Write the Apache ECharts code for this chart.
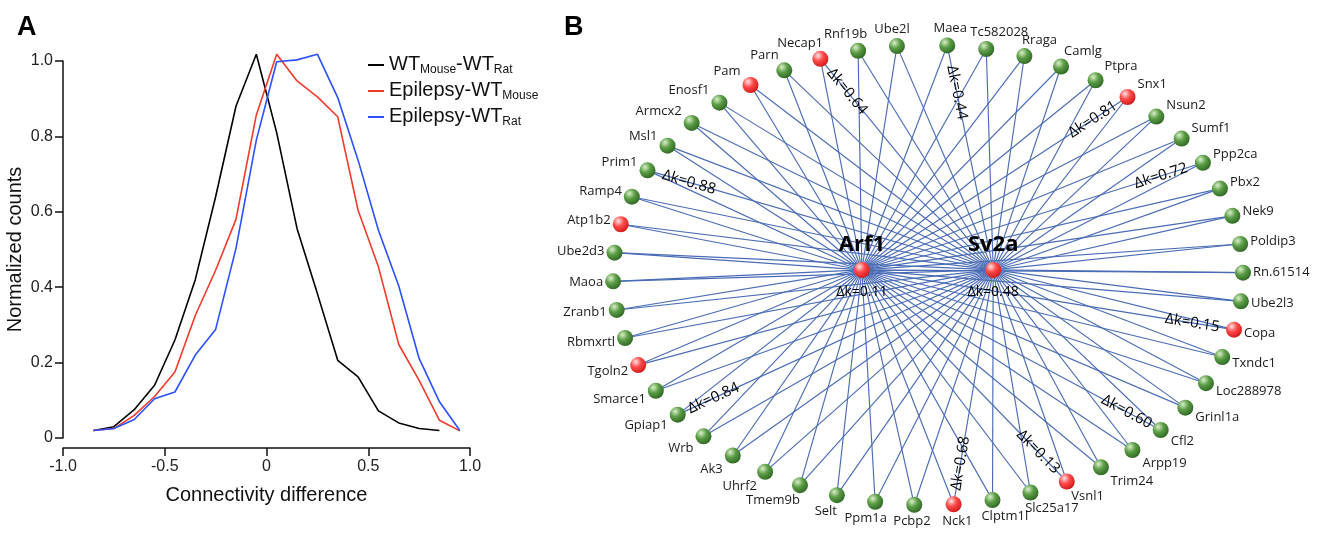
<!DOCTYPE html>
<html><head><meta charset="utf-8">
<script src="https://cdn.jsdelivr.net/npm/echarts@6/dist/echarts.min.js"></script>
<style>html,body{margin:0;padding:0;background:#fff}#c{width:1324px;height:534px}</style>
</head><body><div id="c"></div>
<script>
// ---------- Panel A data ----------
const xValues = [-0.85,-0.75,-0.65,-0.55,-0.45,-0.35,-0.25,-0.15,-0.05,0.05,0.15,0.25,0.35,0.45,0.55,0.65,0.75,0.85,0.95];
const wtMouseWtRat = [0.02,0.03,0.075,0.14,0.26,0.42,0.64,0.88,1.018,0.81,0.556,0.383,0.206,0.162,0.072,0.04,0.025,0.02];
const epilepsyWtMouse = [0.02,0.025,0.06,0.11,0.175,0.325,0.445,0.58,0.857,1.018,0.947,0.905,0.852,0.604,0.454,0.248,0.153,0.047,0.019];
const epilepsyWtRat = [0.02,0.025,0.049,0.104,0.122,0.22,0.288,0.503,0.79,0.998,1.003,1.018,0.903,0.737,0.551,0.403,0.211,0.096,0.02];
const seriesNames = ['WT_Mouse-WT_Rat','Epilepsy-WT_Mouse','Epilepsy-WT_Rat'];
const legendRich = ['{m|WT}{s|Mouse}{m|-WT}{s|Rat}','{m|Epilepsy-WT}{s|Mouse}','{m|Epilepsy-WT}{s|Rat}'];
const xTickLabels = {'-1':'-1.0','-0.5':'-0.5','0':'0','0.5':'0.5','1':'1.0'};
const yTickLabels = {'0':'0','0.2':'0.2','0.4':'0.4','0.6':'0.6','0.8':'0.8','1':'1.0'};

// ---------- Panel B data ----------
const hubGenes = ['Arf1','Sv2a'];
const hubDeltaK = ['Δk=0.11','Δk=0.48'];
const ringGenes = ['Maea','Tc582028','Rraga','Camlg','Ptpra','Snx1','Nsun2','Sumf1','Ppp2ca','Pbx2',
  'Nek9','Poldip3','Rn.61514','Ube2l3','Copa','Txndc1','Loc288978','Grinl1a','Cfl2','Arpp19',
  'Trim24','Vsnl1','Slc25a17','Clptm1l','Nck1','Pcbp2','Ppm1a','Selt','Tmem9b','Uhrf2',
  'Ak3','Wrb','Gpiap1','Smarce1','Tgoln2','Rbmxrtl','Zranb1','Maoa','Ube2d3','Atp1b2',
  'Ramp4','Prim1','Msl1','Armcx2','Enosf1','Pam','Parn','Necap1','Rnf19b','Ube2l'];
const redGenes = ['Snx1','Copa','Vsnl1','Nck1','Tgoln2','Atp1b2','Pam','Necap1','Arf1','Sv2a'];
const edgeLabelGenes = ['Necap1','Maea','Snx1','Ppp2ca','Prim1','Gpiap1','Nck1','Vsnl1','Cfl2','Copa'];
const edgeLabelHubs  = ['Sv2a','Sv2a','Arf1','Arf1','Sv2a','Sv2a','Sv2a','Arf1','Arf1','Arf1'];
const edgeLabelTexts = ['Δk=0.64','Δk=0.44','Δk=0.81','Δk=0.72','Δk=0.88','Δk=0.84','Δk=0.68','Δk=0.13','Δk=0.60','Δk=0.15'];

// ---------- layout (not data) ----------
const RING_START = -86.5, RING_STEP = 7.16;          // degrees around the ellipse
const HUB_POS = {Arf1:[-0.21,-0.022], Sv2a:[0.207,-0.022]};
const EDGE_LABEL_T = [0.155,0.21,0.13,0.123,0.12,0.114,0.175,0.14,0.114,0.112];
const NODE_FONT = 13, NODE_FAMILY = '"Open Sans", "Noto Sans", sans-serif';
const SANS = '"Liberation Sans", Arial, sans-serif';

const cv = document.createElement('canvas').getContext('2d');
function textW(t, size, fam){ cv.font = size + 'px ' + fam; return cv.measureText(t).width; }

const greenGrad = new echarts.graphic.RadialGradient(0.35,0.3,0.75,[
  {offset:0,color:'#d9f0c9'},{offset:0.45,color:'#5c9d47'},{offset:1,color:'#2d6622'}]);
const redGrad = new echarts.graphic.RadialGradient(0.35,0.3,0.75,[
  {offset:0,color:'#ffe4e4'},{offset:0.45,color:'#ff4a4a'},{offset:1,color:'#cf1717'}]);

const pos = {};
const nodes = [];
ringGenes.forEach((g,i)=>{
  const a = (RING_START + i*RING_STEP)*Math.PI/180;
  const c = Math.cos(a), s = Math.sin(a);
  pos[g] = [c, s];
  const w = textW(g, NODE_FONT, NODE_FAMILY);
  const cx = Math.max(-1, Math.min(1, c*1.8));
  nodes.push({name:g, value:[c,s],
    itemStyle:{color: redGenes.includes(g) ? redGrad : greenGrad},
    label:{show:true, position:'inside', formatter:g, offset:[cx*(10+w/2), s*(10+7)],
      fontSize:NODE_FONT, fontFamily:NODE_FAMILY, color:'#1a1a1a'}});
});
hubGenes.forEach(h=>{
  pos[h] = HUB_POS[h];
  nodes.push({name:h, value:HUB_POS[h],
    itemStyle:{color: redGrad},
    label:{show:true, position:'inside', formatter:h, offset:[0,-25],
      fontSize:22, fontWeight:'bold', fontFamily:NODE_FAMILY, color:'#000'}});
});
const links = [];
ringGenes.forEach(g=>{ hubGenes.forEach(h=>links.push({source:g, target:h})); });
links.push({source:'Arf1', target:'Sv2a'});

const chart = echarts.init(document.getElementById('c'));
const option = {
  backgroundColor:'#fff',
  animation:false,
  title:[
    {text:'A', left:12, top:9, textStyle:{fontSize:27, fontWeight:'bold', fontFamily:SANS, color:'#000'}},
    {text:'B', left:559, top:9, textStyle:{fontSize:27, fontWeight:'bold', fontFamily:SANS, color:'#000'}}
  ],
  legend:{
    data:seriesNames, orient:'vertical', left:363, top:45, itemWidth:16, itemHeight:2, itemGap:0,
    icon:'rect', selectedMode:false,
    formatter: n => legendRich[seriesNames.indexOf(n)],
    textStyle:{rich:{
      m:{fontSize:20, fontFamily:SANS, color:'#111', lineHeight:22, verticalAlign:'top'},
      s:{fontSize:12, fontFamily:SANS, color:'#111', lineHeight:12, padding:[14,0,0,0], verticalAlign:'bottom'}
    }}
  },
  grid:[
    {left:63, right:854, top:61, bottom:96, outerBoundsMode:'none'},
    {left:613, width:630, top:45, height:460, outerBoundsMode:'none'}
  ],
  xAxis:[
    {type:'value', gridIndex:0, min:-1, max:1, interval:0.5, offset:10,
     axisLine:{show:true, onZero:false, lineStyle:{color:'#111', width:1.5}},
     axisTick:{show:true, length:8, lineStyle:{color:'#111', width:1.5}},
     splitLine:{show:false},
     axisLabel:{formatter:v=>xTickLabels[String(v)] ?? String(v), fontSize:16, fontFamily:SANS, color:'#222', margin:11},
     name:'Connectivity difference', nameLocation:'middle', nameGap:37,
     nameTextStyle:{fontSize:20, fontFamily:SANS, color:'#111'}},
    {type:'value', gridIndex:1, min:-1, max:1, show:false}
  ],
  yAxis:[
    {type:'value', gridIndex:0, min:0, max:1, interval:0.2,
     axisLine:{show:true, onZero:false, lineStyle:{color:'#111', width:1.5}},
     axisTick:{show:true, length:8, lineStyle:{color:'#111', width:1.5}},
     splitLine:{show:false},
     axisLabel:{formatter:v=>yTickLabels[String(+v.toFixed(1))] ?? String(v), fontSize:16, fontFamily:SANS, color:'#222', margin:10},
     name:'Normalized counts', nameLocation:'middle', nameGap:38,
     nameTextStyle:{fontSize:20, fontFamily:SANS, color:'#111'}},
    {type:'value', gridIndex:1, min:-1, max:1, inverse:true, show:false}
  ],
  series:[
    {name:seriesNames[0], type:'line', xAxisIndex:0, yAxisIndex:0, symbol:'none', color:'#000', clip:false,
     lineStyle:{width:1.6}, data:wtMouseWtRat.map((v,i)=>[xValues[i],v])},
    {name:seriesNames[1], type:'line', xAxisIndex:0, yAxisIndex:0, symbol:'none', color:'#f23a2a', clip:false,
     lineStyle:{width:1.6}, data:epilepsyWtMouse.map((v,i)=>[xValues[i],v])},
    {name:seriesNames[2], type:'line', xAxisIndex:0, yAxisIndex:0, symbol:'none', color:'#2a50ff', clip:false,
     lineStyle:{width:1.6}, data:epilepsyWtRat.map((v,i)=>[xValues[i],v])},
    {type:'graph', coordinateSystem:'cartesian2d', xAxisIndex:1, yAxisIndex:1,
     symbol:'circle', symbolSize:16, data:nodes, links:links, silent:true,
     lineStyle:{color:'#4a6cb6', width:1.15, opacity:1, curveness:0},
     emphasis:{disabled:true}, z:3}
  ]
};
chart.setOption(option);

// Δk annotations: label-only entries placed along the chosen edges, rotated to follow them
const annots = [];
edgeLabelGenes.forEach((g,k)=>{
  const p = pos[g], h = pos[edgeLabelHubs[k]];
  const pp = chart.convertToPixel({gridIndex:1}, p), hp = chart.convertToPixel({gridIndex:1}, h);
  let ang = Math.atan2(hp[1]-pp[1], hp[0]-pp[0])*180/Math.PI;
  if (ang > 90) ang -= 180; if (ang < -90) ang += 180;
  const t = EDGE_LABEL_T[k];
  annots.push({name:'dk_'+k, value:[p[0]+(h[0]-p[0])*t, p[1]+(h[1]-p[1])*t], symbolSize:0.01,
    itemStyle:{color:'rgba(0,0,0,0)'},
    label:{show:true, position:'inside', formatter:edgeLabelTexts[k], rotate:-ang,
      fontSize:15, fontFamily:NODE_FAMILY, color:'#000'}});
});
hubGenes.forEach((h,k)=>{
  annots.push({name:'dkh_'+k, value:HUB_POS[h], symbolSize:0.01, itemStyle:{color:'rgba(0,0,0,0)'},
    label:{show:true, position:'inside', formatter:hubDeltaK[k], offset:[0,22],
      fontSize:14, fontFamily:NODE_FAMILY, color:'#000'}});
});
chart.setOption({series:[{},{},{},{data:nodes.concat(annots), links:links}]});
</script></body></html>
